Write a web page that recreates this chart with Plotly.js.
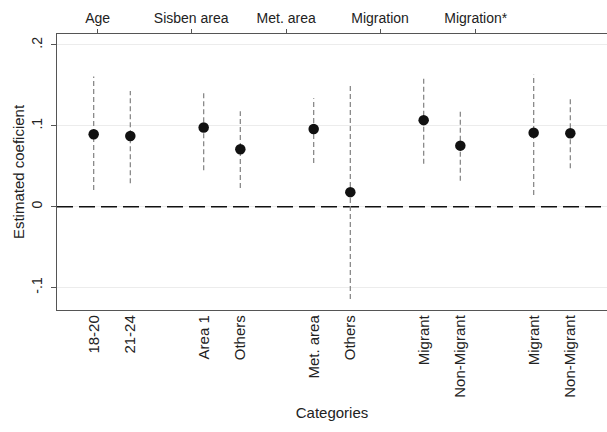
<!DOCTYPE html>
<html>
<head>
<meta charset="utf-8">
<script src="https://cdn.plot.ly/plotly-3.0.1.min.js"></script>
<style>html,body{margin:0;padding:0;background:#fff;}#chart{width:607px;height:432px;}</style>
</head>
<body>
<div id="chart"></div>
<script>
// Category labels and their positions on the category axis
var categories = ['18-20','21-24','Area 1','Others','Met. area','Others','Migrant','Non-Migrant','Migrant','Non-Migrant'];
var positions  = [1, 2, 4, 5, 7, 8, 10, 11, 13, 14];
// Point estimates and confidence bounds
var estimates = [0.0895, 0.0874, 0.0980, 0.0710, 0.0960, 0.0180, 0.1070, 0.0755, 0.0915, 0.0907];
var ciLow     = [0.0206, 0.0290, 0.0450, 0.0230, 0.0540, -0.1140, 0.0530, 0.0320, 0.0145, 0.0475];
var ciHigh    = [0.1610, 0.1430, 0.1440, 0.1180, 0.1340, 0.1500, 0.1615, 0.1195, 0.1630, 0.1350];
// Top axis group labels
var groups = ['Age','Sisben area','Met. area','Migration','Migration*'];
var groupPos = [1.11, 3.66, 6.25, 8.81, 11.42];
// Y tick labels
var yTickVals = [-0.1, 0, 0.1, 0.2];
var yTickText = ['-.1', '0', '.1', '.2'];

var ciX = [], ciY = [];
for (var i = 0; i < positions.length; i++) {
  ciX.push(positions[i], positions[i], null);
  ciY.push(ciLow[i], ciHigh[i], null);
}

var fam = 'Liberation Sans, Arial, Helvetica, sans-serif';
var font13 = {family: fam, size: 13, color: '#222'};
var font14 = {family: fam, size: 14, color: '#222'};
var font15 = {family: fam, size: 15, color: '#222'};

var traces = [
  {x: [0, 15], y: [0, 0], mode: 'lines', line: {color: '#111', width: 1.6, dash: '16px,6px'}, hoverinfo: 'skip', showlegend: false},
  {x: ciX, y: ciY, mode: 'lines', line: {color: '#8a8a8a', width: 1.3, dash: '5px,3px'}, connectgaps: false, showlegend: false},
  {x: positions, y: estimates, mode: 'markers', marker: {color: '#111', size: 10.5}, showlegend: false},
  {x: groupPos, y: estimates.slice(0, groupPos.length), xaxis: 'x2', mode: 'markers', marker: {opacity: 0}, hoverinfo: 'skip', showlegend: false}
];

var layout = {
  width: 607, height: 432,
  margin: {l: 57, r: 0, t: 34, b: 122},
  paper_bgcolor: '#fff', plot_bgcolor: '#fff',
  font: font13,
  xaxis: {
    range: [0, 15], tickvals: positions, ticktext: categories, tickangle: -90,
    showgrid: false, zeroline: false, showline: true, linecolor: '#555', linewidth: 1.2,
    ticks: '', tickfont: font15, ticklabelstandoff: -2,
    title: {text: 'Categories', font: font15, standoff: 10}
  },
  xaxis2: {
    range: [0, 15], overlaying: 'x', side: 'top', anchor: 'y',
    tickvals: groupPos, ticktext: groups, tickangle: 0,
    showgrid: false, zeroline: false, showline: true, linecolor: '#555', linewidth: 1.2,
    ticks: 'outside', ticklen: 4, tickcolor: '#555', tickfont: font14
  },
  yaxis: {
    range: [-0.1277, 0.2135], tickvals: yTickVals, ticktext: yTickText, tickangle: -90,
    showgrid: true, gridcolor: '#ececec', gridwidth: 1, zeroline: false,
    showline: true, linecolor: '#555', linewidth: 1.2,
    ticks: 'outside', ticklen: 5, tickcolor: '#555', tickfont: font14, ticklabelstandoff: 3,
    title: {text: 'Estimated coeficient', font: font15, standoff: 1}
  }
};

Plotly.newPlot('chart', traces, layout, {displayModeBar: false, staticPlot: true});
</script>
</body>
</html>
